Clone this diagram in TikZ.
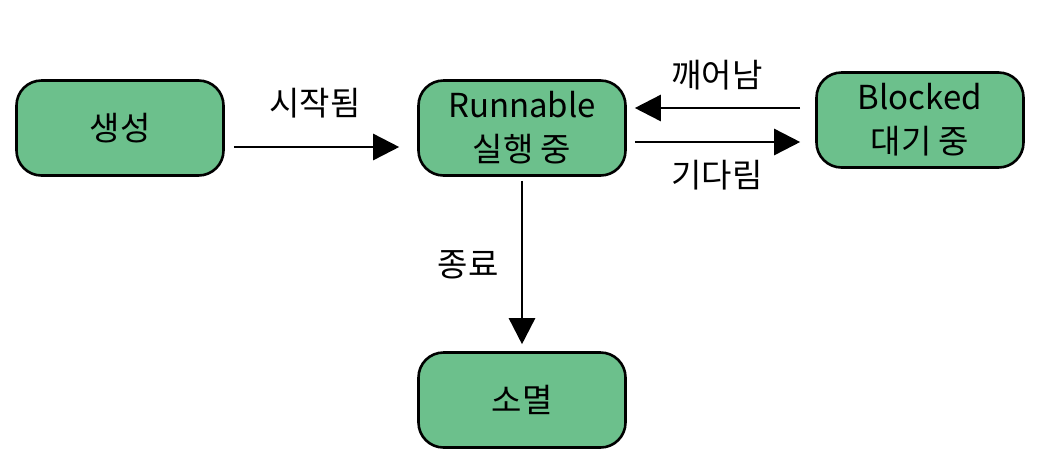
\documentclass[tikz,border=0pt]{standalone}
\usepackage{fontspec}
\setmainfont{Noto Sans CJK KR}
\usetikzlibrary{arrows.meta}
\definecolor{stategreen}{RGB}{108,192,140}
\begin{document}
\begin{tikzpicture}[
    x=1pt, y=-1pt,
    state/.style={rectangle, rounded corners=25pt, draw, line width=2.6pt, fill=stategreen,
        minimum width=207pt, minimum height=95pt, align=center, font=\fontsize{33}{44}\selectfont},
    lbl/.style={font=\fontsize{33}{38}\selectfont},
    arr/.style={line width=2.6pt, -{Triangle[length=26pt,width=26pt]}}
]
\useasboundingbox (0,0) rectangle (1038,467);

% States
\node[state] (gen) at (120,128) {생성};
\node[state] (run) at (522,128) {Runnable\\실행 중};
\node[state] (blk) at (920,120) {Blocked\\대기 중};
\node[state] (dead) at (522,400) {소멸};

% Transitions
\draw[arr, shorten <=9pt, shorten >=18pt] (gen.east |- 0,147) -- (run.west |- 0,147);
\draw[arr, shorten <=15pt, shorten >=8pt] (blk.west |- 0,108) -- (run.east |- 0,108);
\draw[arr, shorten <=8pt, shorten >=15pt] (run.east |- 0,142) -- (blk.west |- 0,142);
\draw[arr, shorten <=4pt, shorten >=7pt] (run.south) -- (dead.north);

% Labels
\node[lbl] (lstart) at (315,103) {시작됨};
\node[lbl] (lwake) at (717,75) {깨어남};
\node[lbl] (lwait) at (717,175) {기다림};
\node[lbl] (lend) at (468,265) {종료};
\end{tikzpicture}
\end{document}
